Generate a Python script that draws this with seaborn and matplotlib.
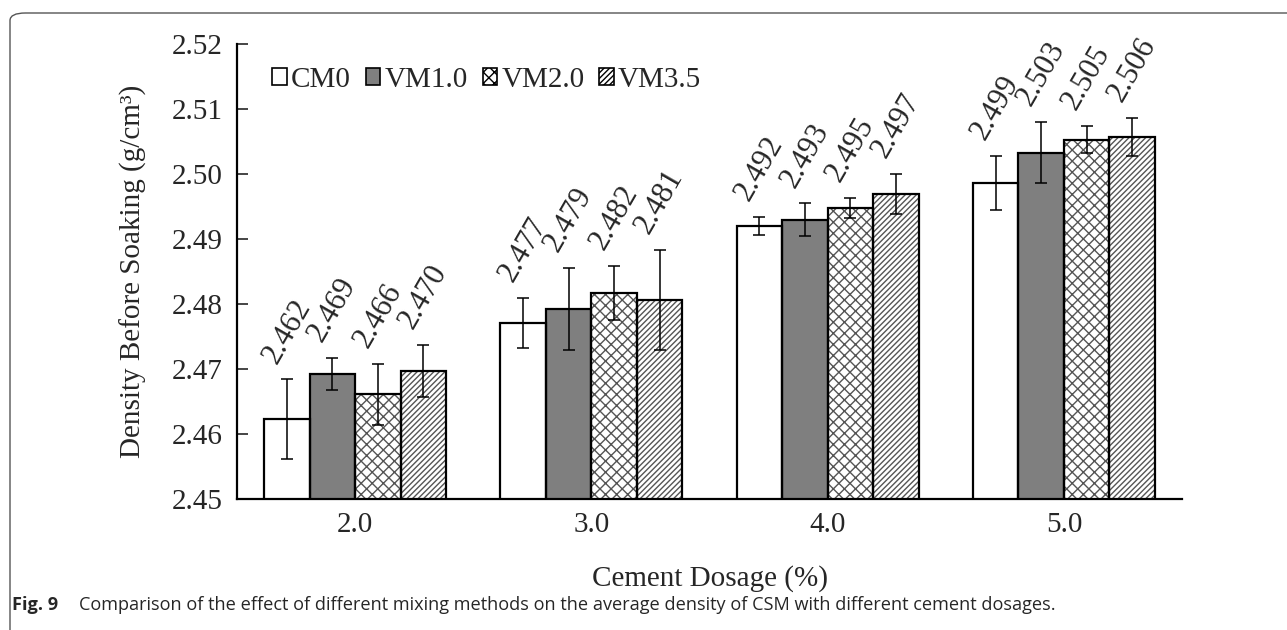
import pandas as pd
import matplotlib.pyplot as plt
import seaborn as sns
from matplotlib.patches import Rectangle, Patch, FancyBboxPatch
from matplotlib.font_manager import FontProperties

# Data
dosages = ['2.0', '3.0', '4.0', '5.0']
methods = ['CM0', 'VM1.0', 'VM2.0', 'VM3.5']
cm0 = [2.4623, 2.4771, 2.4920, 2.4986]
vm10 = [2.4692, 2.4793, 2.4930, 2.5033]
vm20 = [2.4661, 2.4817, 2.4948, 2.5053]
vm35 = [2.4697, 2.4806, 2.4969, 2.5057]
cm0_err = [0.0061, 0.0039, 0.0014, 0.0042]
vm10_err = [0.0025, 0.0063, 0.0025, 0.0047]
vm20_err = [0.0047, 0.0042, 0.0015, 0.0021]
vm35_err = [0.0040, 0.0077, 0.0031, 0.0029]

colors = {'CM0': 'white', 'VM1.0': '#7f7f7f', 'VM2.0': 'white', 'VM3.5': 'white'}
hatches = {'CM0': '', 'VM1.0': '', 'VM2.0': 'xxx', 'VM3.5': '//////'}

rows = []
for m, vals, errs in zip(methods, [cm0, vm10, vm20, vm35],
                         [cm0_err, vm10_err, vm20_err, vm35_err]):
    for d, v, e in zip(dosages, vals, errs):
        rows.append({'dosage': d, 'method': m, 'density': v, 'err': e})
df = pd.DataFrame(rows)

serif = ['Liberation Serif', 'DejaVu Serif']
sns.set_style('white')
plt.rcParams['font.family'] = serif
plt.rcParams['hatch.linewidth'] = 1.0
plt.rcParams['hatch.color'] = '#555555'

label_font = FontProperties(family='Liberation Serif', size=22)

fig = plt.figure(figsize=(12.87, 6.3), dpi=100)
ax = fig.add_axes([237 / 1287, 131 / 630, 945 / 1287, 455 / 630])

sns.barplot(data=df, x='dosage', y='density', hue='method', order=dosages,
            hue_order=methods, palette=colors, width=0.77, errorbar=None,
            edgecolor='#555555', linewidth=0, ax=ax, legend=False)

for m, cont in zip(methods, ax.containers):
    sub = df[df['method'] == m].set_index('dosage').loc[dosages]
    xs = []
    for p in cont.patches:
        p.set_hatch(hatches[m])
        ax.add_patch(Rectangle(p.get_xy(), p.get_width(), p.get_height(),
                               fill=False, edgecolor='black', linewidth=1.6,
                               zorder=3))
        xs.append(p.get_x() + p.get_width() / 2)
    ax.errorbar(xs, sub['density'], yerr=sub['err'], fmt='none',
                ecolor='black', elinewidth=1.1, capsize=4, capthick=1.1,
                zorder=4)
    for x, v, e in zip(xs, sub['density'], sub['err']):
        ax.annotate(f'{v:.3f}', (x, v + e), xytext=(0, 8),
                    textcoords='offset points', rotation=60, ha='center',
                    va='bottom', fontproperties=label_font)

ax.set_ylim(2.45, 2.52)
ax.set_xlim(-0.5, 3.5)
ax.set_yticks([2.45, 2.46, 2.47, 2.48, 2.49, 2.50, 2.51, 2.52])
ax.set_yticklabels(['2.45', '2.46', '2.47', '2.48', '2.49', '2.50', '2.51', '2.52'])
ax.set_xticks(range(4))
ax.set_xticklabels(dosages)
ax.set_xticks([0.5, 1.5, 2.5, 3.5], minor=True)
ax.tick_params(axis='x', which='major', length=0, labelsize=21, pad=9)
ax.tick_params(axis='x', which='minor', direction='in', length=8, width=1.2,
               color='#555555')
ax.tick_params(axis='y', direction='in', length=8, width=1.2, labelsize=21,
               pad=10, left=True)
for s in ['top', 'right']:
    ax.spines[s].set_visible(False)
for s in ['left', 'bottom']:
    ax.spines[s].set_color('black')
    ax.spines[s].set_linewidth(1.6)

ax.set_xlabel('Cement Dosage (%)', fontsize=21, labelpad=20)
ax.set_ylabel('Density Before Soaking (g/cm³)', fontsize=21, labelpad=18)

handles = [Patch(facecolor=colors[m], edgecolor='black', hatch=hatches[m],
                 linewidth=1.2) for m in methods]
ax.legend(handles, methods, loc='upper left', bbox_to_anchor=(0.025, 0.975),
          ncol=4, frameon=False, handlelength=0.5,
          handleheight=0.5, handletextpad=0.15, columnspacing=0.5,
          borderaxespad=0, prop={'family': 'Liberation Serif', 'size': 21})

# panel frame and caption
fig.patches.append(FancyBboxPatch((10 / 1287, -0.2), 1.2, 1.2 - 13 / 630,
                                  boxstyle='round,pad=0,rounding_size=0.012',
                                  transform=fig.transFigure, fill=False,
                                  edgecolor='#555555', linewidth=1.0))
fig.text(12 / 1287, 25 / 630, 'Fig. 9', fontsize=13.1, fontweight='bold',
         family=['Open Sans', 'DejaVu Sans'], va='center')
fig.text(79 / 1287, 25 / 630,
         'Comparison of the effect of different mixing methods on the average '
         'density of CSM with different cement dosages.',
         fontsize=13.1, family=['Open Sans', 'DejaVu Sans'], va='center')

fig.savefig('out.png', dpi=100)
